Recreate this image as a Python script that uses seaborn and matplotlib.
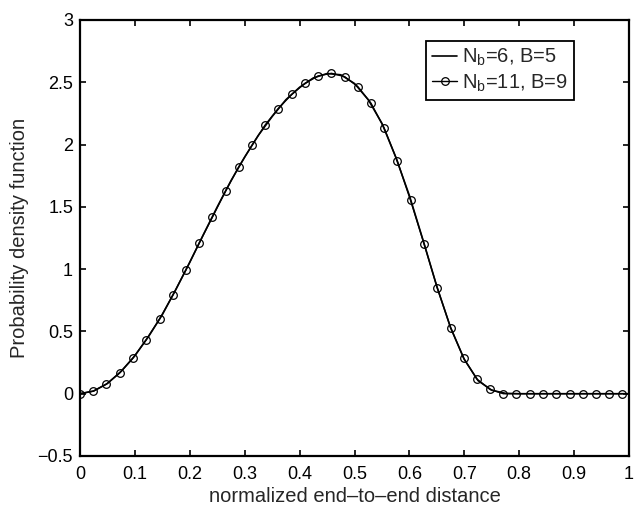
import numpy as np
import pandas as pd
import matplotlib
matplotlib.use("Agg")
import matplotlib.pyplot as plt
import seaborn as sns

# ---- data ----
x_nb6 = [0.0, 0.025, 0.05, 0.075, 0.1, 0.125, 0.15, 0.175, 0.2, 0.225,
         0.25, 0.275, 0.3, 0.325, 0.35, 0.375, 0.4, 0.425, 0.45, 0.475,
         0.5, 0.525, 0.55, 0.575, 0.6, 0.625, 0.65, 0.675, 0.7, 0.725,
         0.75, 0.775, 0.8, 0.825, 0.85, 0.875, 0.9, 0.925, 0.95, 0.975, 1.0]
y_nb6 = [0.0, 0.022, 0.082, 0.18, 0.305, 0.46, 0.635, 0.84, 1.055, 1.28,
         1.50, 1.71, 1.90, 2.075, 2.225, 2.36, 2.46, 2.535, 2.57, 2.56,
         2.49, 2.36, 2.17, 1.90, 1.59, 1.23, 0.86, 0.53, 0.275, 0.105,
         0.028, 0.003, 0.0, 0.0, 0.0, 0.0, 0.0, 0.0, 0.0, 0.0, 0.0]

x_nb11 = [0.0, 0.024, 0.048, 0.072, 0.096, 0.120, 0.145, 0.169, 0.193, 0.217,
          0.241, 0.265, 0.289, 0.313, 0.337, 0.361, 0.386, 0.410, 0.434, 0.458,
          0.482, 0.506, 0.530, 0.554, 0.578, 0.602, 0.627, 0.651, 0.675, 0.699,
          0.723, 0.747, 0.771, 0.795, 0.819, 0.843, 0.867, 0.892, 0.916, 0.940,
          0.964, 0.988]
y_nb11 = [0.0, 0.02, 0.077, 0.165, 0.283, 0.43, 0.60, 0.79, 0.995, 1.208,
          1.416, 1.625, 1.82, 1.993, 2.156, 2.289, 2.404, 2.492, 2.551, 2.572,
          2.545, 2.465, 2.332, 2.132, 1.868, 1.553, 1.198, 0.845, 0.531, 0.283,
          0.117, 0.034, 0.0, 0.0, 0.0, 0.0, 0.0, 0.0, 0.0, 0.0,
          0.0, 0.0]

label_a = r"N$_\mathrm{b}$=6, B=5"
label_b = r"N$_\mathrm{b}$=11, B=9"

x_ticks = [0, 0.1, 0.2, 0.3, 0.4, 0.5, 0.6, 0.7, 0.8, 0.9, 1]
x_ticklabels = ["0", "0.1", "0.2", "0.3", "0.4", "0.5", "0.6", "0.7", "0.8", "0.9", "1"]
y_ticks = [-0.5, 0, 0.5, 1, 1.5, 2, 2.5, 3]
y_ticklabels = ["\u22120.5", "0", "0.5", "1", "1.5", "2", "2.5", "3"]

# ---- style ----
sns.set_style("ticks")
plt.rcParams["font.family"] = ["Liberation Sans", "DejaVu Sans"]
plt.rcParams["mathtext.fontset"] = "custom"
plt.rcParams["mathtext.rm"] = "Liberation Sans"
plt.rcParams["mathtext.it"] = "Liberation Sans:italic"
plt.rcParams["axes.unicode_minus"] = True

fig = plt.figure(figsize=(6.35, 5.07), dpi=100)
ax = fig.add_axes([0.126, 0.1006, 0.8646, 0.86])

df_a = pd.DataFrame({"x": x_nb6, "y": y_nb6})
df_b = pd.DataFrame({"x": x_nb11, "y": y_nb11})

sns.lineplot(data=df_a, x="x", y="y", ax=ax, color="black", linewidth=1.2,
             label=label_a, sort=True)
sns.lineplot(data=df_b, x="x", y="y", ax=ax, color="black", linewidth=1.0,
             marker="o", markersize=5.5, markerfacecolor="none",
             markeredgecolor="black", markeredgewidth=0.9, label=label_b)

ax.set_xlim(0, 1)
ax.set_ylim(-0.5, 3)
ax.set_xticks(x_ticks)
ax.set_xticklabels(x_ticklabels)
ax.set_yticks(y_ticks)
ax.set_yticklabels(y_ticklabels)
ax.tick_params(direction="in", length=4, width=1.2, top=True, right=True,
               labelsize=13, colors="black")
ax.tick_params(axis="x", pad=7)
ax.tick_params(axis="y", pad=5)
for s in ax.spines.values():
    s.set_visible(True)
    s.set_linewidth(1.6)
    s.set_color("black")

ax.set_xlabel("normalized end\u2013to\u2013end distance", fontsize=14.5, labelpad=3)
ax.set_ylabel("Probability density function", fontsize=14.5, labelpad=6)

leg = ax.legend(loc="upper right", bbox_to_anchor=(0.899, 0.952),
                borderaxespad=0, fontsize=14.5, frameon=True, fancybox=False,
                edgecolor="black", handlelength=1.2, handletextpad=0.25,
                borderpad=0.3, labelspacing=0.2)
leg.get_frame().set_linewidth(1.3)
leg.get_frame().set_alpha(1)

fig.savefig("out.png", dpi=100)
